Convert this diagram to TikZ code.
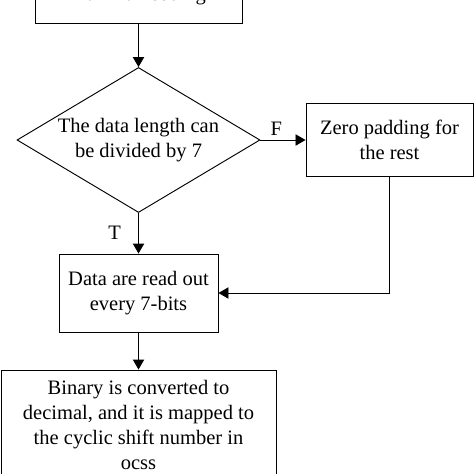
\documentclass[tikz,border=0pt]{standalone}
\usepackage{fontspec}
\setmainfont{Liberation Serif}
\usetikzlibrary{shapes.geometric,arrows.meta}

\begin{document}
\begin{tikzpicture}[x=0.03cm, y=-0.03cm, line width=0.8pt,
    every node/.style={font=\fontsize{17.5}{21.3}\selectfont, align=center},
    box/.style={draw, inner sep=0pt},
    arr/.style={-{Triangle[length=3mm,width=3.4mm]}}]
    \useasboundingbox (0,0) rectangle (474,474);

    % Draw the boxes
    \node[box, minimum width=6.21cm, minimum height=1.65cm] (code) at (138.5,-4.5) {Huffman coding};
    \node[draw, diamond, aspect=1.68, inner sep=0pt,
      minimum width=7.29cm, minimum height=4.35cm] (check) at (138.5,140)
      {The data length can\\be divided by 7};
    \node[box, minimum width=5.01cm, minimum height=2.19cm] (zero) at (389.5,139.5)
      {Zero padding for\\the rest};
    \node[box, minimum width=4.77cm, minimum height=2.34cm] (read) at (138.5,293)
      {Data are read out\\every 7-bits};
    \node[box, minimum width=8.25cm, minimum height=3.3cm] (conv) at (138.5,425)
      {Binary is converted to\\decimal, and it is mapped to\\the cyclic shift number in\\ocss};

    % draw arrows
    \draw[arr] (code) -- (check);
    \draw[arr] (check.east) -- node[above, pos=0.35]{F} (check.east -| zero.west);
    \draw[arr] (check) -- node[left=4mm]{T} (read);
    \draw[arr] (zero.south) |- (read.east);
    \draw[arr] (read) -- (conv);
\end{tikzpicture}
\end{document}
